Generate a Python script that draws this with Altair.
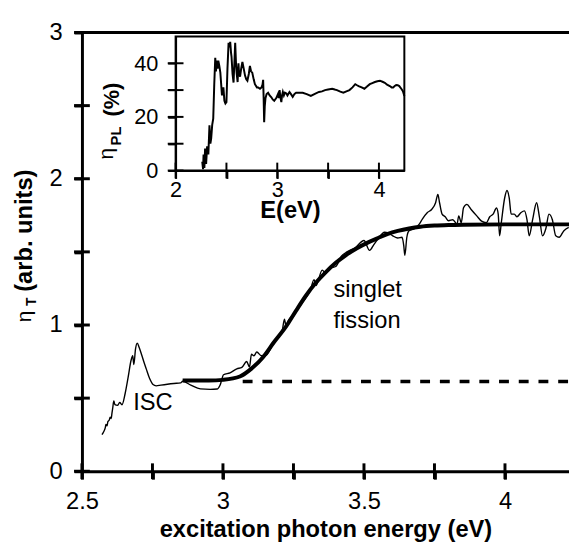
import altair as alt
import pandas as pd

FONT = "Liberation Sans"

# ---------------- main panel data ----------------
main_x = [2.571, 2.577, 2.583, 2.585, 2.589, 2.592, 2.597, 2.600, 2.604, 2.606, 2.609, 2.613,
          2.617, 2.626, 2.634, 2.642, 2.653, 2.664, 2.674, 2.680, 2.684, 2.690, 2.696, 2.703,
          2.711, 2.720, 2.728, 2.740, 2.752, 2.763, 2.780, 2.803, 2.826, 2.850, 2.857, 2.886,
          2.920, 2.955, 2.979, 2.990, 3.002, 3.025, 3.049, 3.067, 3.084, 3.094, 3.101, 3.110,
          3.120, 3.136, 3.154, 3.180, 3.210, 3.218, 3.224, 3.232, 3.250, 3.280, 3.310, 3.323,
          3.330, 3.352, 3.364, 3.380, 3.400, 3.420, 3.440, 3.470, 3.500, 3.520, 3.535, 3.550,
          3.573, 3.585, 3.602, 3.620, 3.635, 3.641, 3.645, 3.652, 3.660, 3.680, 3.696, 3.707,
          3.725, 3.740, 3.754, 3.762, 3.768, 3.777, 3.788, 3.800, 3.815, 3.830, 3.836, 3.845,
          3.853, 3.865, 3.880, 3.900, 3.917, 3.934, 3.946, 3.958, 3.970, 3.976, 3.981, 3.987,
          3.999, 4.007, 4.015, 4.022, 4.033, 4.042, 4.057, 4.069, 4.078, 4.086, 4.098, 4.112,
          4.122, 4.133, 4.145, 4.156, 4.168, 4.180, 4.192, 4.209, 4.226]
main_y = [0.25, 0.27, 0.30, 0.32, 0.31, 0.34, 0.35, 0.37, 0.36, 0.39, 0.43, 0.48,
          0.455, 0.45, 0.47, 0.455, 0.53, 0.645, 0.757, 0.79, 0.73, 0.836, 0.876, 0.846,
          0.80, 0.745, 0.70, 0.634, 0.593, 0.584, 0.589, 0.595, 0.60, 0.604, 0.615, 0.589,
          0.563, 0.56, 0.562, 0.59, 0.66, 0.673, 0.70, 0.71, 0.75, 0.713, 0.80, 0.79,
          0.815, 0.79, 0.795, 0.88, 0.96, 1.04, 0.99, 1.03, 1.07, 1.15, 1.24, 1.31,
          1.27, 1.375, 1.355, 1.39, 1.40, 1.47, 1.50, 1.53, 1.578, 1.51, 1.55, 1.59,
          1.634, 1.63, 1.61, 1.595, 1.60, 1.544, 1.477, 1.60, 1.645, 1.66, 1.69, 1.724,
          1.769, 1.79, 1.836, 1.893, 1.836, 1.758, 1.74, 1.713, 1.72, 1.69, 1.746, 1.70,
          1.802, 1.825, 1.79, 1.746, 1.71, 1.70, 1.74, 1.758, 1.80, 1.758, 1.61, 1.70,
          1.87, 1.92, 1.87, 1.758, 1.758, 1.74, 1.769, 1.78, 1.72, 1.61, 1.72, 1.836,
          1.74, 1.61, 1.66, 1.758, 1.72, 1.61, 1.60, 1.645, 1.667]

fit_x = [2.857, 2.950, 3.000, 3.060, 3.100, 3.142, 3.180, 3.224, 3.260, 3.294, 3.330, 3.364,
         3.400, 3.434, 3.475, 3.515, 3.550, 3.585, 3.620, 3.660, 3.700, 3.750, 3.800, 3.853,
         4.000, 4.227]
fit_y = [0.62, 0.62, 0.625, 0.648, 0.70, 0.78, 0.88, 0.99, 1.10, 1.20, 1.29, 1.36,
         1.425, 1.475, 1.525, 1.565, 1.595, 1.623, 1.643, 1.66, 1.672, 1.68, 1.684, 1.686,
         1.688, 1.688]

base_x = [3.07, 4.227]
base_y = [0.614, 0.614]

main_xticks = [2.5, 2.75, 3.0, 3.25, 3.5, 3.75, 4.0]
main_yticks = [0, 0.5, 1, 1.5, 2, 2.5, 3]

ann_text = ["ISC", "singlet", "fission"]
ann_x = [2.682, 3.392, 3.392]
ann_y = [0.418, 1.194, 0.978]

# ---------------- inset data ----------------
inset_x = [2.262, 2.270, 2.275, 2.283, 2.290, 2.300, 2.310, 2.322, 2.333, 2.342, 2.350, 2.360,
           2.370, 2.380, 2.390, 2.397, 2.405, 2.413, 2.420, 2.430, 2.440, 2.456, 2.470, 2.480,
           2.490, 2.500, 2.510, 2.521, 2.530, 2.537, 2.545, 2.550, 2.560, 2.570, 2.578, 2.586,
           2.594, 2.600, 2.610, 2.618, 2.625, 2.634, 2.645, 2.657, 2.670, 2.683, 2.695, 2.706,
           2.720, 2.731, 2.742, 2.754, 2.768, 2.780, 2.800, 2.812, 2.830, 2.845, 2.855, 2.861,
           2.866, 2.871, 2.877, 2.884, 2.895, 2.910, 2.925, 2.942, 2.955, 2.970, 2.990, 3.007,
           3.015, 3.023, 3.030, 3.040, 3.047, 3.055, 3.065, 3.075, 3.090, 3.100, 3.120, 3.135,
           3.152, 3.170, 3.185, 3.220, 3.250, 3.290, 3.330, 3.370, 3.410, 3.440, 3.470, 3.500,
           3.540, 3.565, 3.587, 3.620, 3.650, 3.680, 3.710, 3.740, 3.767, 3.785, 3.800, 3.830,
           3.857, 3.880, 3.910, 3.935, 3.960, 3.985, 4.010, 4.035, 4.058, 4.080, 4.107, 4.125,
           4.140, 4.155, 4.170, 4.185, 4.200, 4.220, 4.236, 4.250]
inset_y = [3.3, 0.5, 6, 1, 8.2, 2.5, 9, 6, 16.9, 10, 12, 17,
           19.3, 32, 42, 37, 41, 38, 41, 39, 36.5, 28, 31, 26,
           25, 25.5, 38, 47.6, 46, 48, 44, 42.5, 36, 32.8, 40, 47.6,
           40, 36.5, 33, 40, 36, 35, 38, 40.5, 38, 35.4, 34, 33.5,
           36, 39, 37, 36.5, 34, 32.2, 31, 31, 30.5, 31, 32, 33.8,
           27, 18, 24, 27, 28.5, 29, 28, 27.3, 26.5, 26, 27, 28.5,
           27, 30, 27.5, 25.5, 28, 29.3, 28, 29, 28.7, 28, 29.3, 28.5,
           27.5, 28.6, 29, 29, 29, 28.5, 27.8, 28.6, 29.3, 29.5, 30, 30.2,
           30.5, 30.2, 30, 29.4, 29, 29.5, 30, 31, 32.2, 31.8, 31.5, 31,
           30.5, 31.2, 32.2, 32.6, 33, 33.3, 33.5, 33.1, 32.7, 32, 31.5, 31,
           31, 31.5, 31.9, 31.8, 31.5, 30.5, 29.6, 27.8]

inset_xticks = [2, 2.5, 3, 3.5, 4]
inset_yticks = [0, 10, 20, 30, 40]
inset_frame = {"x": [2.0], "x2": [4.25], "y": [0.0], "y2": [50.0]}

# ---------------- geometry ----------------
W, H = 494, 445
MX = [2.5, 4.227]
MY = [0, 3]
IX = [2, 4.25]
IY = [0, 50]
IX_RANGE = [95, 327]
IY_RANGE = [140, 4]
TICK_PX = 8  # half length of the crossing ticks, pixels


def tick_segments(xt, yt, xdom, ydom, xpx, ypx):
    """Build two-point segments for ticks crossing the x and y axes."""
    hx = TICK_PX * (xdom[1] - xdom[0]) / xpx
    hy = TICK_PX * (ydom[1] - ydom[0]) / ypx
    rows = []
    for i, v in enumerate(xt):
        rows.append({"id": f"x{i}", "tx": v, "ty": ydom[0] - hy})
        rows.append({"id": f"x{i}", "tx": v, "ty": ydom[0] + hy})
    for i, v in enumerate(yt):
        rows.append({"id": f"y{i}", "tx": xdom[0] - hx, "ty": v})
        rows.append({"id": f"y{i}", "tx": xdom[0] + hx, "ty": v})
    return pd.DataFrame(rows)


xs = alt.Scale(domain=MX, nice=False, zero=False)
ys = alt.Scale(domain=MY, nice=False, zero=False)

x_axis = alt.Axis(values=main_xticks, format="~g",
                  labelExpr="datum.value % 0.5 == 0 ? datum.label : ''",
                  tickSize=8, tickWidth=3, domainWidth=3, labelFontSize=24, labelPadding=11,
                  title="excitation photon energy (eV)", titleFontSize=24, titleFontWeight="bold",
                  titleY=47, titleBaseline="top")
y_axis = alt.Axis(values=main_yticks, format="~g",
                  labelExpr="datum.value % 1 == 0 ? datum.label : ''",
                  tickSize=8, tickWidth=3, domainWidth=3, labelFontSize=24, labelPadding=12,
                  title=None)

df_main = pd.DataFrame({"x": main_x, "y": main_y})
df_fit = pd.DataFrame({"x": fit_x, "y": fit_y})
df_base = pd.DataFrame({"x": base_x, "y": base_y})
df_ann = pd.DataFrame({"x": ann_x, "y": ann_y, "t": ann_text})
df_top = pd.DataFrame({"y": [MY[1]]})
df_mt = tick_segments(main_xticks, main_yticks, MX, MY, W, H)

thin = alt.Chart(df_main).mark_line(color="black", strokeWidth=1.4, interpolate="monotone").encode(
    x=alt.X("x:Q", scale=xs, axis=x_axis), y=alt.Y("y:Q", scale=ys, axis=y_axis))
fit = alt.Chart(df_fit).mark_line(color="black", strokeWidth=4, interpolate="monotone").encode(
    x="x:Q", y="y:Q")
base = alt.Chart(df_base).mark_line(color="black", strokeWidth=3.5, strokeDash=[10, 10]).encode(
    x="x:Q", y="y:Q")
top_rule = alt.Chart(df_top).mark_rule(color="black", strokeWidth=3).encode(y="y:Q")
mticks = alt.Chart(df_mt).mark_line(color="black", strokeWidth=3, strokeCap="butt").encode(
    x=alt.X("tx:Q"), y=alt.Y("ty:Q"), detail="id:N")
ann = alt.Chart(df_ann).mark_text(fontSize=24, align="left", baseline="alphabetic",
                                  color="black", font=FONT).encode(x="x:Q", y="y:Q", text="t:N")


def label(txt, px, py, size, weight="normal"):
    return alt.Chart(pd.DataFrame({"t": [txt]})).mark_text(
        fontSize=size, fontWeight=weight, angle=270, align="center", baseline="alphabetic",
        color="black", font=FONT).encode(x=alt.value(px), y=alt.value(py), text="t:N")


ytitle = [
    label("(arb. units)", -51, 201, 24, "bold"),
    label("η", -52, 288, 21),
    label("T", -47, 273, 14, "bold"),
    label("(%)", 38, 68, 22, "bold"),
    label("PL", 40, 105, 15, "bold"),
    label("η", 31, 123, 21),
]

main = alt.layer(thin, fit, base, top_rule, mticks, ann, *ytitle)

# ---------------- inset ----------------
ixs = alt.Scale(domain=IX, range=IX_RANGE, nice=False, zero=False)
iys = alt.Scale(domain=IY, range=IY_RANGE, nice=False, zero=False)
ix_axis = alt.Axis(orient="bottom", offset=-305, values=inset_xticks, format="~g",
                   labelExpr="datum.value % 1 == 0 ? datum.label : ''",
                   tickSize=8, tickWidth=2, domainWidth=2, labelFontSize=22, labelPadding=1,
                   title="E(eV)", titleFontSize=24, titleFontWeight="bold",
                   titleY=29, titleBaseline="top")
iy_axis = alt.Axis(orient="left", offset=-95, values=inset_yticks, format="~g",
                   labelExpr="datum.value % 20 == 0 ? datum.label : ''",
                   tickSize=8, tickWidth=2, domainWidth=2, labelFontSize=22, labelPadding=10,
                   title=None)

df_in = pd.DataFrame({"ix": inset_x, "iy": inset_y})
df_fr = pd.DataFrame({"ix": inset_frame["x"], "ix2": inset_frame["x2"],
                      "iy": inset_frame["y"], "iy2": inset_frame["y2"]})
df_it = tick_segments(inset_xticks, inset_yticks, IX, IY,
                      IX_RANGE[1] - IX_RANGE[0], IY_RANGE[0] - IY_RANGE[1])
df_it = df_it.rename(columns={"tx": "ix", "ty": "iy"})

iline = alt.Chart(df_in).mark_line(color="black", strokeWidth=2).encode(
    x=alt.X("ix:Q", scale=ixs, axis=ix_axis), y=alt.Y("iy:Q", scale=iys, axis=iy_axis))
iframe = alt.Chart(df_fr).mark_rect(filled=False, stroke="black", strokeWidth=2).encode(
    x="ix:Q", x2="ix2:Q", y="iy:Q", y2="iy2:Q")
iticks = alt.Chart(df_it).mark_line(color="black", strokeWidth=2, strokeCap="butt").encode(
    x="ix:Q", y="iy:Q", detail="id:N")
inset = alt.layer(iline, iframe, iticks)

chart = alt.layer(main, inset).resolve_scale(
    x="independent", y="independent"
).properties(
    width=W, height=H,
    padding={"left": 75, "top": 21, "right": 0, "bottom": 74},
    autosize=alt.AutoSizeParams(type="none"),
).configure_view(stroke=None).configure_axis(
    labelFont=FONT, titleFont=FONT, labelColor="black", titleColor="black",
    domainColor="black", tickColor="black", grid=False, labelFlush=False, labelOverlap=False,
)

chart.save("out.html", embed_options={"renderer": "svg", "actions": False})
